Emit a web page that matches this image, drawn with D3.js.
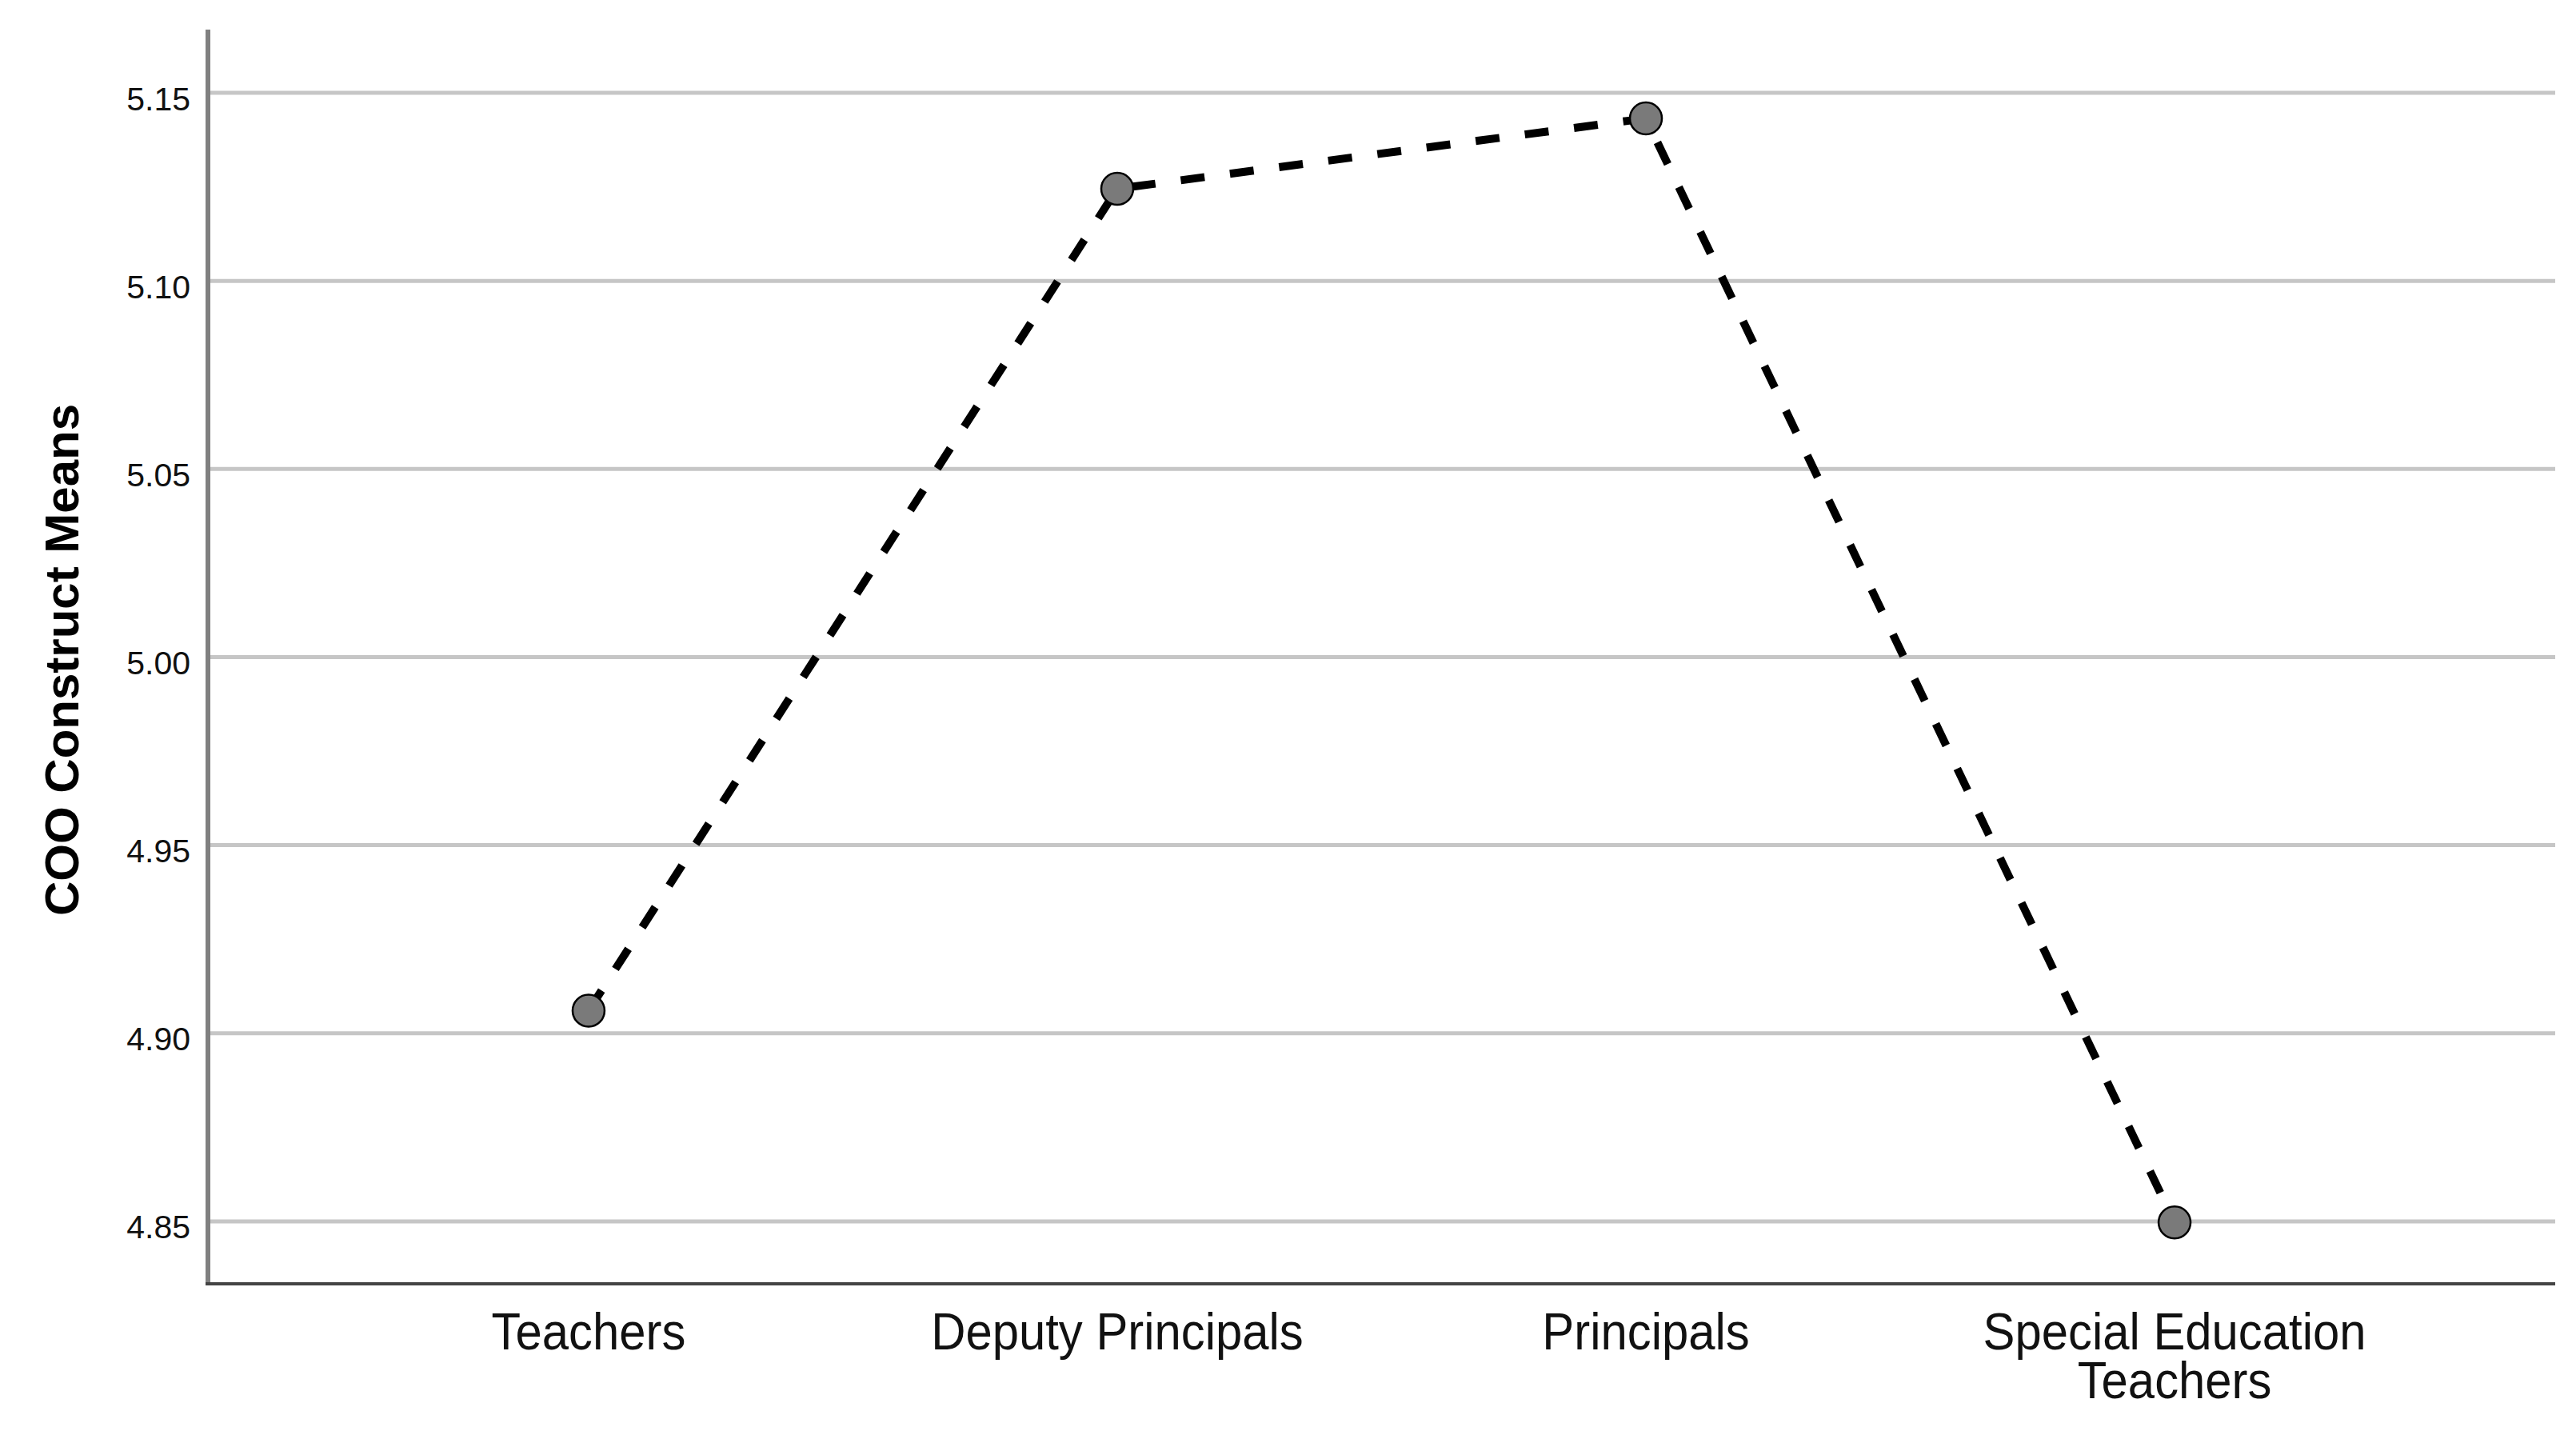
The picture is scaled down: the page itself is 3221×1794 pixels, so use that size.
<!DOCTYPE html>
<html>
<head>
<meta charset="utf-8">
<script src="https://cdn.jsdelivr.net/npm/d3@7"></script>
<style>
  html, body { margin: 0; padding: 0; background: #fff; }
  svg { display: block; }
</style>
</head>
<body>
<script>
// ---- data ----
const categories = ["Teachers", "Deputy Principals", "Principals", "Special Education Teachers"];
const categoryLines = [["Teachers"], ["Deputy Principals"], ["Principals"], ["Special Education", "Teachers"]];
const means = [4.906, 5.1245, 5.1432, 4.8497];
const yTicks = [4.85, 4.90, 4.95, 5.00, 5.05, 5.10, 5.15];
const yTitle = "COO Construct Means";

// ---- layout ----
const W = 3221, H = 1794;
const plotLeft = 260, plotRight = 3195, plotTop = 37, plotBottom = 1605;

const svg = d3.select("body").append("svg").attr("width", W).attr("height", H);

const x = d3.scalePoint().domain(categories).range([plotLeft, plotRight]).padding(0.72);
const y = d3.scaleLinear().domain([4.8334, 5.1668]).range([plotBottom, plotTop]);

// gridlines
svg.append("g").selectAll("line").data(yTicks).join("line")
  .attr("x1", plotLeft).attr("x2", plotRight)
  .attr("y1", d => y(d)).attr("y2", d => y(d))
  .attr("stroke", "#c6c6c6").attr("stroke-width", 5);

// y axis
const yAxis = svg.append("g").attr("transform", `translate(${plotLeft},0)`)
  .call(d3.axisLeft(y).tickValues(yTicks).tickSize(0).tickPadding(22).tickFormat(d3.format(".2f")));
yAxis.select(".domain").remove();
yAxis.selectAll("text")
  .attr("font-family", "Liberation Sans, Arial, sans-serif")
  .attr("font-size", 41).attr("fill", "#111").attr("dy", 21);

svg.append("line").attr("x1", plotLeft).attr("x2", plotLeft).attr("y1", plotTop).attr("y2", plotBottom + 2)
  .attr("stroke", "#808080").attr("stroke-width", 6);
svg.append("line").attr("x1", plotLeft - 3).attr("x2", plotRight).attr("y1", plotBottom).attr("y2", plotBottom)
  .attr("stroke", "#444").attr("stroke-width", 4);

// x labels
const xl = svg.append("g");
categories.forEach((c, i) => {
  const t = xl.append("text")
    .attr("text-anchor", "middle")
    .attr("font-family", "Liberation Sans, Arial, sans-serif")
    .attr("font-size", 64).attr("fill", "#111")
    .attr("transform", `translate(${x(c)},1687) scale(0.935,1)`);
  categoryLines[i].forEach((ln, j) => {
    t.append("tspan").attr("x", 0).attr("y", j * 61).text(ln);
  });
});

// y title
svg.append("text")
  .attr("transform", `translate(98,825) rotate(-90)`)
  .attr("text-anchor", "middle")
  .attr("font-family", "Liberation Sans, Arial, sans-serif")
  .attr("font-weight", "bold").attr("font-size", 60).attr("fill", "#000")
  .text(yTitle);

// line
const pts = categories.map((c, i) => [x(c), y(means[i])]);
svg.append("path").attr("d", d3.line()(pts))
  .attr("fill", "none").attr("stroke", "#000").attr("stroke-width", 10)
  .attr("stroke-dasharray", "30,32");

// markers
svg.append("g").selectAll("circle").data(categories).join("circle")
  .attr("cx", d => x(d)).attr("cy", (d, i) => y(means[i]))
  .attr("r", 20).attr("fill", "#7a7a7a").attr("stroke", "#000").attr("stroke-width", 2.5);
</script>
</body>
</html>
